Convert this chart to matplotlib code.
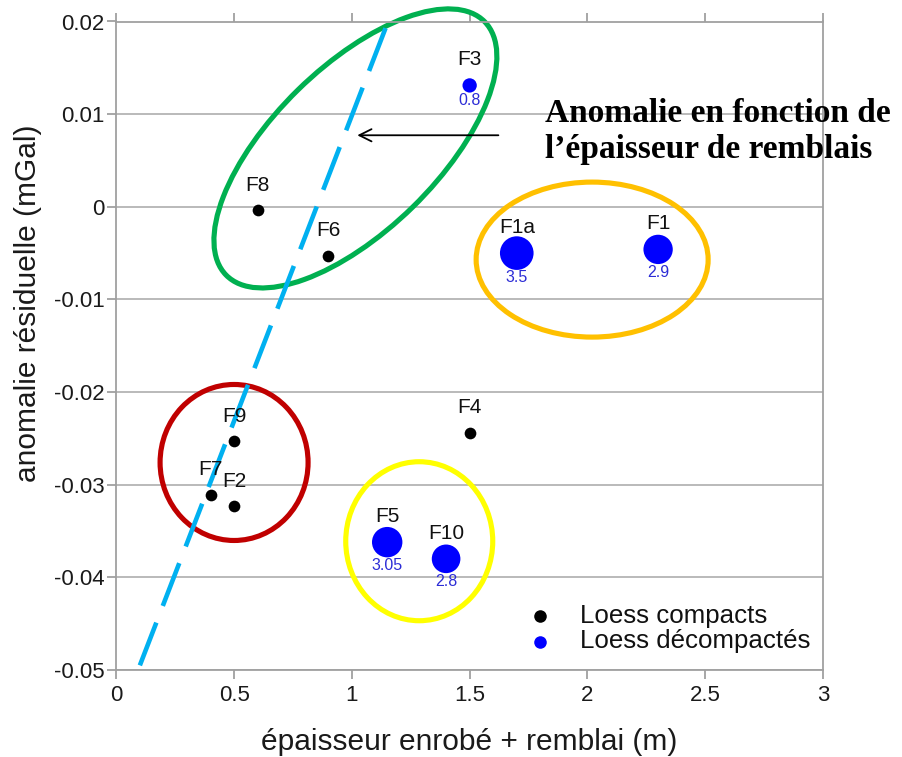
import matplotlib
matplotlib.use("Agg")
import matplotlib.pyplot as plt
from matplotlib.patches import Ellipse
from matplotlib.transforms import Affine2D
import numpy as np

plt.rcParams['font.family'] = ['Liberation Sans', 'DejaVu Sans']
plt.rcParams['axes.unicode_minus'] = False

# Loess compacts (black)
compact_names = ["F8", "F6", "F9", "F7", "F2", "F4"]
compact_x = [0.6, 0.9, 0.5, 0.4, 0.5, 1.5]
compact_y = [-0.0004, -0.0053, -0.0253, -0.0311, -0.0323, -0.0244]

# Loess décompactés (blue), with thickness value
loose_names = ["F3", "F1a", "F1", "F5", "F10"]
loose_x = [1.5, 1.7, 2.3, 1.15, 1.4]
loose_y = [0.0131, -0.0050, -0.0046, -0.0362, -0.0380]
loose_val = [0.8, 3.5, 2.9, 3.05, 2.8]
loose_val_labels = ["0.8", "3.5", "2.9", "3.05", "2.8"]

# trend line (anomaly vs fill thickness)
trend_x = [0.1, 1.163]
trend_y = [-0.0495, 0.0206]

xticks = [0, 0.5, 1, 1.5, 2, 2.5, 3]
xticklabels = ["0", "0.5", "1", "1.5", "2", "2.5", "3"]
yticks = [0.02, 0.01, 0, -0.01, -0.02, -0.03, -0.04, -0.05]
yticklabels = ["0.02", "0.01", "0", "-0.01", "-0.02", "-0.03", "-0.04", "-0.05"]

W, H = 902, 757
L, R, T, B = 116.3, 823.0, 21.5, 670.0
fig = plt.figure(figsize=(W/100, H/100), dpi=100)
ax = fig.add_axes([L/W, 1-B/H, (R-L)/W, (B-T)/H])
ax.set_xlim(0, 3)
ax.set_ylim(-0.05, 0.02)
ax.set_xticks(xticks)
ax.set_xticklabels(xticklabels)
ax.set_yticks(yticks)
ax.set_yticklabels(yticklabels)
ax.yaxis.grid(True, color="#b4b4b4", lw=1.3)
ax.set_axisbelow(True)
gray = "#a0a0a0"
for s in ax.spines.values():
    s.set_color(gray)
    s.set_linewidth(1.3)
ax.tick_params(axis='both', colors=gray, labelcolor="#1a1a1a", labelsize=16, length=6.5, width=1.3)
ax.tick_params(axis='x', top=True, pad=4)
ax.tick_params(axis='y', pad=2)
ax.set_xlabel("épaisseur enrobé + remblai (m)", fontsize=21.5, color="#1a1a1a")
ax.set_ylabel("anomalie résiduelle (mGal)", fontsize=21.5, color="#1a1a1a")
ax.xaxis.set_label_coords(0.5, -0.089)
ax.yaxis.set_label_coords(-0.105, 0.566)

# pixel-like frame: px per x unit and px per y unit
sx = (R-L)/3.0
sy = (B-T)/0.07
px = Affine2D().scale(1/sx, 1/sy) + ax.transData
def ell(cx, cy, w, h, ang, color):
    e = Ellipse((cx*sx, cy*sy), w, h, angle=ang, fill=False,
                edgecolor=color, lw=3.7, transform=px, zorder=2, clip_on=False)
    ax.add_patch(e)

ell(1.015, 0.0063, 362, 164, 44.4, "#00B050")
ell(0.5, -0.0276, 148, 156, 0, "#C00000")
ell(2.02, -0.0057, 232, 155, 0, "#FFC000")
ell(1.286, -0.0361, 147, 159, 0, "#FFFF00")

ax.plot(trend_x, trend_y, color="#00B0F0", lw=3.3, dashes=(10, 3.9), zorder=3,
        clip_on=False, solid_capstyle="butt", dash_capstyle="butt")

dot_s = (11.7*0.72)**2
ax.scatter(compact_x, compact_y, s=dot_s, color="black", zorder=4, linewidths=0)
diam_px = [8.6 + 7.15*v for v in loose_val]
sizes = [(d*0.72)**2 for d in diam_px]
ax.scatter(loose_x, loose_y, s=sizes, color="#0000FF", zorder=4, linewidths=0)

for n, x, y in zip(compact_names, compact_x, compact_y):
    ax.annotate(n, (x, y), xytext=(0, 18), textcoords="offset points", fontsize=15,
                ha="center", va="center", color="#111111", zorder=5)
for n, x, y, d, lab in zip(loose_names, loose_x, loose_y, diam_px, loose_val_labels):
    ax.annotate(n, (x, y), xytext=(0, 18.5), textcoords="offset points", fontsize=15,
                ha="center", va="center", color="#111111", zorder=5)
    ax.annotate(lab, (x, y), xytext=(0, -(d/2 + 8)*0.72), textcoords="offset points",
                fontsize=11.5, ha="center", va="center", color="#2c2cd6", zorder=5)

ax.annotate("", xy=(1.023, 0.00772), xytext=(1.622, 0.00772),
            arrowprops=dict(arrowstyle="->", color="black", lw=1.3, mutation_scale=22,
                            shrinkA=0, shrinkB=0), zorder=5)
fig.text(545/W, 1-122/H, "Anomalie en fonction de", fontsize=24, fontweight="bold",
         family="Liberation Serif", ha="left", va="baseline")
fig.text(545/W, 1-158/H, "l\u2019épaisseur de remblais", fontsize=24, fontweight="bold",
         family="Liberation Serif", ha="left", va="baseline")

# legend
ax.scatter([], [], s=dot_s*1.15, color="black", label="Loess compacts", linewidths=0)
ax.scatter([], [], s=dot_s*1.15, color="#0000FF", label="Loess décompactés", linewidths=0)
leg = ax.legend(loc="upper left", bbox_to_anchor=((527 - L)/(R-L), (B-604)/(B-T)),
                frameon=False, fontsize=18.6, handlelength=1.0, handletextpad=1.05,
                labelspacing=0.05, scatterpoints=1, borderpad=0, borderaxespad=0)
for t in leg.get_texts():
    t.set_color("#111111")

fig.savefig("out.png", dpi=100)
